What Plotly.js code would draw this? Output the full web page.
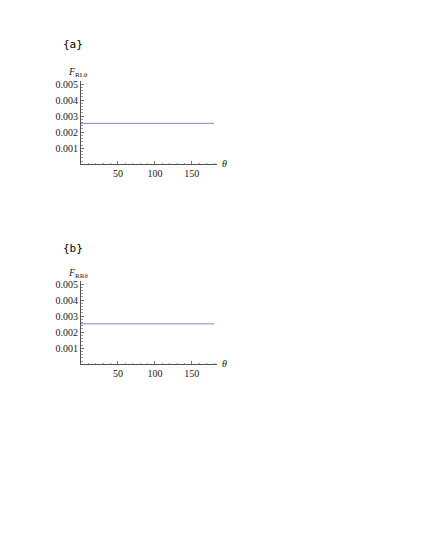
<!DOCTYPE html>
<html>
<head>
<meta charset="utf-8">
<script src="https://cdn.plot.ly/plotly-3.0.1.min.js"></script>
<style>
  body { margin: 0; background: #fff; }
  #myPlot { width: 427px; height: 550px; }
</style>
</head>
<body>
<div id="myPlot"></div>
<script>
        // data
        var theta = [0, 30, 60, 90, 120, 150, 180];
        var fRL = [0.00255, 0.00255, 0.00255, 0.00255, 0.00255, 0.00255, 0.00255];
        var fRR = [0.00252, 0.00252, 0.00252, 0.00252, 0.00252, 0.00252, 0.00252];
        var xTicks = [50, 100, 150];
        var yTicks = [0.001, 0.002, 0.003, 0.004, 0.005];
        var yTickText = ["0.001", "0.002", "0.003", "0.004", "0.005"];

        var lineColor = "#8585c6";
        var axisColor = "#555";
        var tickFont = {family: "Liberation Serif, serif", size: 10, color: "#222"};

        const data = [{
            x: theta,
            y: fRL,
            type: "scatter",
            mode: "lines",
            line: {color: lineColor, width: 1},
            xaxis: "x",
            yaxis: "y",
            hoverinfo: "skip"
        }, {
            x: theta,
            y: fRR,
            type: "scatter",
            mode: "lines",
            line: {color: lineColor, width: 1},
            xaxis: "x2",
            yaxis: "y2",
            hoverinfo: "skip"
        }];

        function xAxis(anchor) {
            return {
                anchor: anchor,
                domain: [81 / 427, 217 / 427],
                range: [0, 184],
                showgrid: false,
                zeroline: false,
                showline: true,
                linecolor: axisColor,
                linewidth: 1,
                tickmode: "array",
                tickvals: xTicks,
                ticks: "inside",
                ticklen: 3,
                tickcolor: "#777",
                tickfont: tickFont,
                minor: {dtick: 10, tick0: 0, ticks: "inside", ticklen: 1.5, tickcolor: "#999"}
            };
        }

        function yAxis(anchor, dom) {
            return {
                anchor: anchor,
                domain: dom,
                range: [0, 0.0052],
                showgrid: false,
                zeroline: false,
                showline: true,
                linecolor: axisColor,
                linewidth: 1,
                tickmode: "array",
                tickvals: yTicks,
                ticktext: yTickText,
                ticks: "inside",
                ticklen: 3,
                tickcolor: "#777",
                tickfont: tickFont,
                minor: {dtick: 0.0002, tick0: 0, ticks: "inside", ticklen: 1.5, tickcolor: "#999"}
            };
        }

        var labelFont = {family: "Liberation Serif, serif", size: 10, color: "#222"};
        var panelFont = {family: "DejaVu Sans Mono, monospace", size: 11, color: "#000"};

        const layout = {
            width: 427,
            height: 550,
            margin: {l: 0, r: 0, t: 0, b: 0},
            paper_bgcolor: "#fff",
            plot_bgcolor: "rgba(0,0,0,0)",
            showlegend: false,
            xaxis: xAxis("y"),
            yaxis: yAxis("x", [1 - 164.3 / 550, 1 - 80.8 / 550]),
            xaxis2: xAxis("y2"),
            yaxis2: yAxis("x2", [1 - 364.3 / 550, 1 - 280.8 / 550]),
            annotations: [
                {text: "{a}", xref: "paper", yref: "paper", x: 61 / 427, y: 1 - 45 / 550,
                 xanchor: "left", yanchor: "middle", showarrow: false, font: panelFont},
                {text: "{b}", xref: "paper", yref: "paper", x: 61 / 427, y: 1 - 248 / 550,
                 xanchor: "left", yanchor: "middle", showarrow: false, font: panelFont},
                {text: "<i>F</i><sub>RLθ</sub>", xref: "paper", yref: "paper", x: 66 / 427, y: 1 - 73 / 550,
                 xanchor: "left", yanchor: "middle", showarrow: false, font: labelFont},
                {text: "<i>F</i><sub>RRθ</sub>", xref: "paper", yref: "paper", x: 66 / 427, y: 1 - 273 / 550,
                 xanchor: "left", yanchor: "middle", showarrow: false, font: labelFont},
                {text: "<i>θ</i>", xref: "paper", yref: "paper", x: 220 / 427, y: 1 - 163 / 550,
                 xanchor: "left", yanchor: "middle", showarrow: false, font: labelFont},
                {text: "<i>θ</i>", xref: "paper", yref: "paper", x: 220 / 427, y: 1 - 363 / 550,
                 xanchor: "left", yanchor: "middle", showarrow: false, font: labelFont}
            ]
        };

        Plotly.newPlot("myPlot", data, layout, {staticPlot: true});
</script>
</body>
</html>
